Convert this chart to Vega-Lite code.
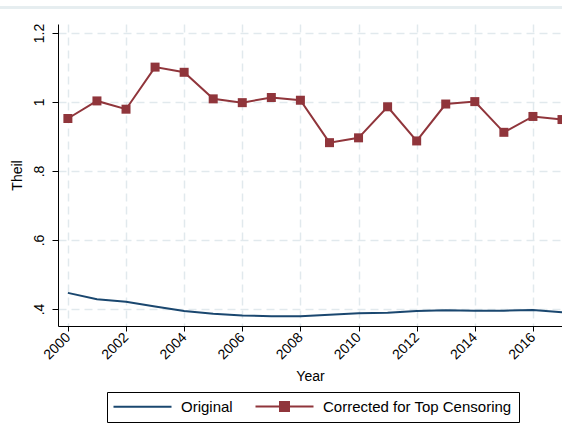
{
  "$schema": "https://vega.github.io/schema/vega-lite/v6.json",
  "width": 504,
  "height": 302,
  "autosize": {"type": "none"},
  "padding": {"left": 58, "top": 24, "right": 0, "bottom": 108},
  "background": "white",
  "config": {
    "font": "Liberation Sans",
    "view": {"stroke": null},
    "axis": {"labelFont": "Liberation Sans", "titleFont": "Liberation Sans", "labelColor": "black", "titleColor": "black", "titleFontWeight": "normal", "domainColor": "black", "tickColor": "black", "labelFontSize": 14, "titleFontSize": 14}
  },
  "datasets": {
    "theil": [
      {"year": 2000, "series": "Original", "value": 0.4465},
      {"year": 2001, "series": "Original", "value": 0.428},
      {"year": 2002, "series": "Original", "value": 0.421},
      {"year": 2003, "series": "Original", "value": 0.407},
      {"year": 2004, "series": "Original", "value": 0.394},
      {"year": 2005, "series": "Original", "value": 0.386},
      {"year": 2006, "series": "Original", "value": 0.381},
      {"year": 2007, "series": "Original", "value": 0.379},
      {"year": 2008, "series": "Original", "value": 0.379},
      {"year": 2009, "series": "Original", "value": 0.383},
      {"year": 2010, "series": "Original", "value": 0.3875},
      {"year": 2011, "series": "Original", "value": 0.389},
      {"year": 2012, "series": "Original", "value": 0.394},
      {"year": 2013, "series": "Original", "value": 0.396},
      {"year": 2014, "series": "Original", "value": 0.395},
      {"year": 2015, "series": "Original", "value": 0.395},
      {"year": 2016, "series": "Original", "value": 0.397},
      {"year": 2017, "series": "Original", "value": 0.390},
      {"year": 2000, "series": "Corrected for Top Censoring", "value": 0.952},
      {"year": 2001, "series": "Corrected for Top Censoring", "value": 1.003},
      {"year": 2002, "series": "Corrected for Top Censoring", "value": 0.979},
      {"year": 2003, "series": "Corrected for Top Censoring", "value": 1.101},
      {"year": 2004, "series": "Corrected for Top Censoring", "value": 1.086},
      {"year": 2005, "series": "Corrected for Top Censoring", "value": 1.009},
      {"year": 2006, "series": "Corrected for Top Censoring", "value": 0.998},
      {"year": 2007, "series": "Corrected for Top Censoring", "value": 1.013},
      {"year": 2008, "series": "Corrected for Top Censoring", "value": 1.005},
      {"year": 2009, "series": "Corrected for Top Censoring", "value": 0.882},
      {"year": 2010, "series": "Corrected for Top Censoring", "value": 0.896},
      {"year": 2011, "series": "Corrected for Top Censoring", "value": 0.986},
      {"year": 2012, "series": "Corrected for Top Censoring", "value": 0.887},
      {"year": 2013, "series": "Corrected for Top Censoring", "value": 0.994},
      {"year": 2014, "series": "Corrected for Top Censoring", "value": 1.001},
      {"year": 2015, "series": "Corrected for Top Censoring", "value": 0.912},
      {"year": 2016, "series": "Corrected for Top Censoring", "value": 0.958},
      {"year": 2017, "series": "Corrected for Top Censoring", "value": 0.949}
    ]
  },
  "data": {"name": "theil"},
  "layer": [
    {
      "mark": {"type": "rule", "clip": false, "color": "#e6edf0", "strokeWidth": 2},
      "encoding": {
        "x": {"datum": 1997.66, "type": "quantitative"},
        "x2": {"datum": 2017.0},
        "y": {"datum": 1.274, "type": "quantitative"}
      }
    },
    {
      "mark": {"type": "line", "strokeWidth": 2},
      "encoding": {
        "x": {
          "field": "year", "type": "quantitative",
          "scale": {"domain": [1999.66, 2017], "nice": false, "zero": false},
          "axis": {
            "title": "Year",
            "values": [2000, 2002, 2004, 2006, 2008, 2010, 2012, 2014, 2016],
            "format": "d",
            "labelAngle": -45,
            "labelAlign": "right",
            "labelBaseline": "middle",
            "tickSize": 5,
            "labelPadding": 4,
            "grid": true,
            "gridColor": "#e1e9ed",
            "gridDash": [8, 5],
            "gridWidth": 1.5,
            "titlePadding": 8
          }
        },
        "y": {
          "field": "value", "type": "quantitative",
          "scale": {"domain": [0.3505, 1.226], "nice": false, "zero": false},
          "axis": {
            "title": "Theil",
            "values": [0.4, 0.6, 0.8, 1, 1.2],
            "format": ".1~f",
            "labelExpr": "substring(datum.label, 0, 1) == '0' ? substring(datum.label, 1) : datum.label",
            "labelAngle": -90,
            "labelAlign": "center",
            "labelBaseline": "bottom",
            "tickSize": 6,
            "labelPadding": 6,
            "grid": true,
            "gridColor": "#e1e9ed",
            "gridDash": [8, 5],
            "gridWidth": 1.5,
            "titlePadding": 8
          }
        },
        "color": {
          "field": "series", "type": "nominal",
          "scale": {"domain": ["Original", "Corrected for Top Censoring"], "range": ["#1a476f", "#90353b"]},
          "legend": {
            "title": null,
            "orient": "none",
            "legendX": 49,
            "legendY": 368,
            "direction": "horizontal",
            "columns": 2,
            "columnPadding": 18,
            "labelFontSize": 15,
            "labelFont": "Liberation Sans",
            "labelColor": "black",
            "labelOffset": 52,
            "labelLimit": 400,
            "symbolSize": 64,
            "symbolStrokeWidth": 2,
            "strokeColor": "black",
            "fillColor": "white",
            "padding": 7,
            "encode": {
              "symbols": {
                "update": {
                  "shape": {"signal": "datum.label === 'Original' ? 'M-2,0H12.5' : 'M-2,0H12.5M4.125,-1.125H6.375V1.125H4.125Z'"},
                  "fill": {"signal": "datum.label === 'Original' ? '#1a476f' : '#90353b'"},
                  "stroke": {"signal": "datum.label === 'Original' ? '#1a476f' : '#90353b'"},
                  "opacity": {"value": 1},
                  "fillOpacity": {"value": 1}
                }
              }
            }
          }
        }
      }
    },
    {
      "transform": [{"filter": "datum.series === 'Corrected for Top Censoring'"}],
      "mark": {"type": "point", "shape": "square", "filled": true, "size": 81, "opacity": 1, "color": "#90353b"},
      "encoding": {
        "x": {"field": "year", "type": "quantitative"},
        "y": {"field": "value", "type": "quantitative"}
      }
    }
  ]
}
